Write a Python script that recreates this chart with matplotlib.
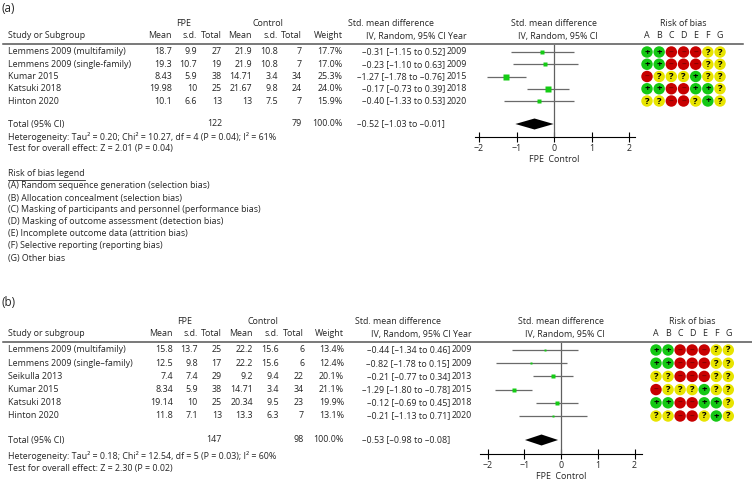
import matplotlib
matplotlib.use('Agg')
import matplotlib.pyplot as plt
import numpy as np

plt.rcParams['font.family'] = ['Open Sans', 'DejaVu Sans']
FS = 6.4
TXT = '#262626'
W, H = 752, 483

# ---------------- data, panel (a)
a_study = ['Lemmens 2009 (multifamily)', 'Lemmens 2009 (single-family)',
           'Kumar 2015', 'Katsuki 2018', 'Hinton 2020']
a_fpe_mean = [18.7, 19.3, 8.43, 19.98, 10.1]
a_fpe_sd = [9.9, 10.7, 5.9, 10, 6.6]
a_fpe_n = [27, 19, 38, 25, 13]
a_ctl_mean = [21.9, 21.9, 14.71, 21.67, 13]
a_ctl_sd = [10.8, 10.8, 3.4, 9.8, 7.5]
a_ctl_n = [7, 7, 34, 24, 7]
a_weight = [17.7, 17.0, 25.3, 24.0, 15.9]
a_smd = [-0.31, -0.23, -1.27, -0.17, -0.40]
a_lo = [-1.15, -1.10, -1.78, -0.73, -1.33]
a_hi = [0.52, 0.63, -0.76, 0.39, 0.53]
a_year = [2009, 2009, 2015, 2018, 2020]
a_rob = ['++---??', '++---??', '-???+??', '++--++?', '??--?+?']
a_total = (122, 79, -0.52, -1.03, -0.01)
a_het = 'Heterogeneity: Tau\u00b2 = 0.20; Chi\u00b2 = 10.27, df = 4 (P = 0.04); I\u00b2 = 61%'
a_test = 'Test for overall effect: Z = 2.01 (P = 0.04)'

# ---------------- data, panel (b)
b_study = ['Lemmens 2009 (multifamily)', 'Lemmens 2009 (single\u2013family)',
           'Seikulla 2013', 'Kumar 2015', 'Katsuki 2018', 'Hinton 2020']
b_fpe_mean = [15.8, 12.5, 7.4, 8.34, 19.14, 11.8]
b_fpe_sd = [13.7, 9.8, 7.4, 5.9, 10, 7.1]
b_fpe_n = [25, 17, 29, 38, 25, 13]
b_ctl_mean = [22.2, 22.2, 9.2, 14.71, 20.34, 13.3]
b_ctl_sd = [15.6, 15.6, 9.4, 3.4, 9.5, 6.3]
b_ctl_n = [6, 6, 22, 34, 23, 7]
b_weight = [13.4, 12.4, 20.1, 21.1, 19.9, 13.1]
b_smd = [-0.44, -0.82, -0.21, -1.29, -0.12, -0.21]
b_lo = [-1.34, -1.78, -0.77, -1.80, -0.69, -1.13]
b_hi = [0.46, 0.15, 0.34, -0.78, 0.45, 0.71]
b_year = [2009, 2009, 2013, 2015, 2018, 2020]
b_rob = ['++---??', '++---??', '??---??', '-???+??', '++--++?', '??--?+?']
b_total = (147, 98, -0.53, -0.98, -0.08)
b_het = 'Heterogeneity: Tau\u00b2 = 0.18; Chi\u00b2 = 12.54, df = 5 (P = 0.03); I\u00b2 = 60%'
b_test = 'Test for overall effect: Z = 2.30 (P = 0.02)'

rob_letters = list('ABCDEFG')
legend_items = ['(A) Random sequence generation (selection bias)',
                '(B) Allocation concealment (selection bias)',
                '(C) Masking of participants and personnel (performance bias)',
                '(D) Masking of outcome assessment (detection bias)',
                '(E) Incomplete outcome data (attrition bias)',
                '(F) Selective reporting (reporting bias)',
                '(G) Other bias']

rob_col = {'+': '#14c814', '-': '#c80000', '?': '#e8e400'}
rob_sym = {'+': '+', '-': '\u2013', '?': '?'}
rob_txt = {'+': 'black', '-': '#8a0000', '?': 'black'}


def dash(s):
    return s.replace('-', '\u2013')


def eff(m, l, h):
    return dash(f'{m:.2f} [{l:.2f} to {h:.2f}]')


fig = plt.figure(figsize=(W / 100, H / 100), dpi=100)
ax = fig.add_axes([0, 0, 1, 1])
ax.set_xlim(0, W)
ax.set_ylim(H, 0)
ax.axis('off')


def t(x, y, s, ha='left', fs=FS, **kw):
    return ax.text(x, y, s, ha=ha, va='center', fontsize=fs, color=TXT, **kw)


def panel(label, L, study, fm, fs, fn, cm, cs, cn, wt, smd, lo, hi, year, rob,
          total, het, test, subgroup):
    n = len(study)
    rows = [L['y0'] + L['dy'] * i for i in range(n)]
    cx = L['cols']
    t(2, L['label'], label, fs=FS + 2)
    h1, h2 = L['h1'], L['h2']
    t(L['fpe_c'], h1, 'FPE', ha='center')
    t(L['ctl_c'], h1, 'Control', ha='center')
    t(L['smd_c'], h1, 'Std. mean difference', ha='center')
    t(L['zero'], h1, 'Std. mean difference', ha='center')
    t(L['rob_x0'] + 3 * L['rob_dx'], h1, 'Risk of bias', ha='center')
    t(8, h2, 'Study or ' + subgroup)
    for x, s in zip(cx, ['Mean', 's.d.', 'Total', 'Mean', 's.d.', 'Total', 'Weight']):
        t(x, h2, s, ha='right')
    t(L['year_r'], h2, 'IV, Random, 95% CI Year', ha='right')
    t(L['zero'] + 4, h2, 'IV, Random, 95% CI', ha='center')
    for k, c in enumerate(rob_letters):
        t(L['rob_x0'] + k * L['rob_dx'], h2, c, ha='center')
    ax.plot([3, L['line_r']], [L['line'], L['line']], color='#555555', lw=1.1)

    for i in range(n):
        y = rows[i]
        t(8, y, study[i])
        vals = [f'{fm[i]:g}', f'{fs[i]:g}', f'{fn[i]}', f'{cm[i]:g}',
                f'{cs[i]:g}', f'{cn[i]}', f'{wt[i]:.1f}%']
        for x, s in zip(cx, vals):
            t(x, y, s, ha='right')
        t(L['eff_r'], y, eff(smd[i], lo[i], hi[i]), ha='right')
        t(L['year_r'], y, str(year[i]), ha='right')
    yt = L['total']
    t(8, yt, 'Total (95% CI)')
    t(cx[2], yt, str(total[0]), ha='right')
    t(cx[5], yt, str(total[1]), ha='right')
    t(cx[6], yt, '100.0%', ha='right')
    t(L['eff_r'], yt, eff(*total[2:]), ha='right')
    t(8, L['het'], het)
    t(8, L['test'], test)

    # forest plot axes: x in SMD units, y in row units
    ppu, xl = L['ppu'], L['xlim']
    left = L['zero'] + xl[0] * ppu
    width = (xl[1] - xl[0]) * ppu
    top, bot = L['line'] + 1, L['axis']
    ylim = ((bot - L['y0']) / L['dy'], (top - L['y0']) / L['dy'])
    fa = fig.add_axes([left / W, 1 - bot / H, width / W, (bot - top) / H])
    fa.patch.set_alpha(0)
    fa.set_xlim(*xl)
    fa.set_ylim(*ylim)
    fa.axvline(0, color='#606060', lw=0.9)
    idx = np.arange(n)
    fa.hlines(idx, lo, hi, color='#6a6a6a', lw=0.9)
    for i in range(n):
        fa.plot(smd[i], i, 's', color='#14cc14', mec='none',
                ms=wt[i] * L['box'] / 1.389)
    ti = (yt - L['y0']) / L['dy']
    hh = 5.5 / L['dy']
    m, l, h = total[2:]
    fa.fill([l, m, h, m], [ti, ti - hh, ti, ti + hh], color='black', lw=0)
    for s in ['top', 'left', 'right']:
        fa.spines[s].set_visible(False)
    fa.spines['bottom'].set_linewidth(0.8)
    fa.set_yticks([])
    fa.set_xticks([-2, -1, 0, 1, 2])
    fa.tick_params(axis='x', direction='inout', length=7, width=0.8,
                   labelsize=FS, labelcolor=TXT, pad=1.2)
    t(L['zero'], L['axis'] + 22.5, 'FPE  Control', ha='center')

    # risk of bias axes
    dx = L['rob_dx']
    ra = fig.add_axes([(L['rob_x0'] - dx / 2) / W, 1 - bot / H, 7 * dx / W, (bot - top) / H])
    ra.axis('off')
    ra.set_xlim(-0.5, 6.5)
    ra.set_ylim(*ylim)
    for i, r in enumerate(rob):
        for k, c in enumerate(r):
            ra.scatter(k, i, s=68, color=rob_col[c], edgecolors='none')
            ra.text(k, i, rob_sym[c], ha='center', va='center', fontsize=6.8,
                    fontweight='bold', color=rob_txt[c])


La = dict(label=8, h1=24, h2=36, line=44, line_r=743, y0=52, dy=12.25,
          total=124, het=137, test=149, axis=137,
          cols=[172, 197, 222, 252, 278, 302, 343], eff_r=445, year_r=467,
          fpe_c=184, ctl_c=268, smd_c=391, zero=554, ppu=37.5, xlim=(-2.1, 2.15),
          rob_x0=647, rob_dx=12.17, box=0.27)
Lb = dict(label=303, h1=322, h2=334, line=342, line_r=752, y0=350, dy=13.2,
          total=440, het=456, test=468, axis=454,
          cols=[173, 198, 222, 253, 279, 304, 344], eff_r=450, year_r=472,
          fpe_c=185, ctl_c=263, smd_c=398, zero=561, ppu=36.75, xlim=(-2.2, 2.2),
          rob_x0=656, rob_dx=12.05, box=0.22)

panel('(a)', La, a_study, a_fpe_mean, a_fpe_sd, a_fpe_n, a_ctl_mean, a_ctl_sd,
      a_ctl_n, a_weight, a_smd, a_lo, a_hi, a_year, a_rob, a_total, a_het, a_test,
      'Subgroup')
panel('(b)', Lb, b_study, b_fpe_mean, b_fpe_sd, b_fpe_n, b_ctl_mean, b_ctl_sd,
      b_ctl_n, b_weight, b_smd, b_lo, b_hi, b_year, b_rob, b_total, b_het, b_test,
      'subgroup')

# risk of bias legend
lg = t(8, 174, 'Risk of bias legend')
for k, s in enumerate(legend_items):
    t(8, 186 + 12 * k, s)
fig.canvas.draw()
bb = lg.get_window_extent()
ax.plot([bb.x0, bb.x1], [179.5, 179.5], color=TXT, lw=0.6)

fig.savefig('out.png', dpi=100)
